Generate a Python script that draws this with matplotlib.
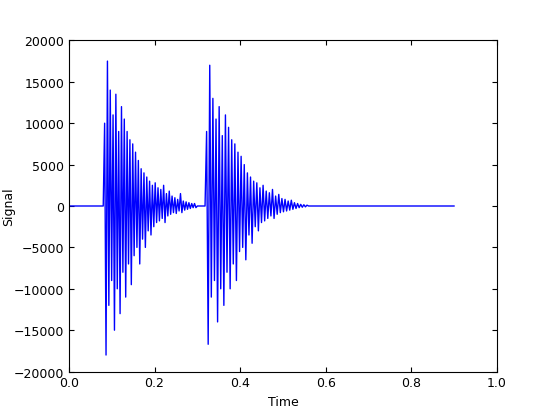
import matplotlib
matplotlib.use("Agg")
import matplotlib.pyplot as plt
import numpy as np

# amplitudes, one burst at a time
burst1 = [0, 10000, -18000, 17500, -12000, 14000, -9000, 11000, -15000, 13500,
          -10000, 9000, -13000, 12000, -8000, 10500, -11000, 9000, -7000, 8000,
          -9500, 7500, -6000, 6500, -5000, 5500, -7000, 4500, -4000, 4000,
          -5000, 3500, -3000, 3000, -3500, 2500, -2500, 2800, -2000, 2200,
          -1800, 2000, -1500, 2500, -2000, 1500, -1200, 1800, -1000, 1200,
          -800, 1000, -900, 800, -600, 1500, -800, 600, -500, 500,
          -400, 400, -300, 300, -200, 300, -200, 0]
burst2 = [0, 9000, -16700, 17000, -11000, 13000, -9000, 10500, -14000, 12000,
          -10000, 8500, -12000, 11000, -8000, 9500, -10000, 8000, -7000, 7500,
          -9000, 6500, -5500, 6000, -5000, 5000, -6500, 4000, -3500, 3500,
          -4500, 3000, -2500, 2800, -3000, 2200, -2000, 2500, -1800, 1800,
          -1500, 1600, -1200, 2000, -1500, 1200, -1000, 1400, -800, 900,
          -700, 800, -600, 600, -500, 700, -400, 400, -300, 300,
          -200, 200, -150, 150, -100, 100, 0]
t1_start, t1_end = 0.080, 0.300
t2_start, t2_end = 0.318, 0.560
t_end = 0.90

t1 = np.linspace(t1_start, t1_end, len(burst1))
t2 = np.linspace(t2_start, t2_end, len(burst2))
time = np.concatenate([[0.0], t1, t2, [t_end]])
signal = np.concatenate([[0.0], burst1, burst2, [0.0]])

fig, ax = plt.subplots(figsize=(5.52, 4.14), dpi=100)
ax.plot(time, signal, color="b", lw=1)
ax.set_xlim(0, 1)
ax.set_ylim(-20000, 20000)
ax.set_xticks(np.arange(0, 1.01, 0.2))
ax.set_yticks(np.arange(-20000, 20001, 5000))
ax.tick_params(direction="in", top=True, right=True, labelsize=9)
ax.set_xlabel("Time", fontsize=9)
ax.set_ylabel("Signal", fontsize=9)
fig.subplots_adjust(left=0.125, right=0.9, bottom=0.1, top=0.9)
fig.canvas.draw()
ax.yaxis.set_label_coords(-0.125, 0.5)
fig.savefig("out.png", dpi=100)
